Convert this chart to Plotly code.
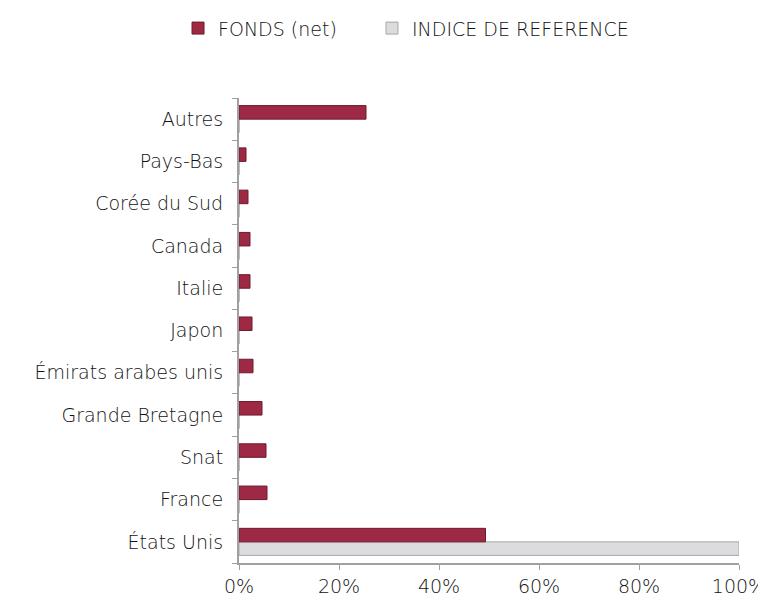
import plotly.graph_objects as go

categories = ["États Unis", "France", "Snat", "Grande Bretagne", "Émirats arabes unis",
              "Japon", "Italie", "Canada", "Corée du Sud", "Pays-Bas", "Autres"]
fonds = [49.3, 5.6, 5.4, 4.6, 2.8, 2.6, 2.2, 2.2, 1.8, 1.4, 25.4]
indice = [100, 0, 0, 0, 0, 0, 0, 0, 0, 0, 0]
tick_vals = [0, 20, 40, 60, 80, 100]
tick_text = ["0%", "20%", "40%", "60%", "80%", "100%"]

font_family = "DejaVu Sans"
text_color = "#111111"
fsize = 19

fig = go.Figure()
fig.add_trace(go.Bar(
    y=categories, x=indice, orientation="h", name="INDICE DE REFERENCE",
    marker=dict(color="#DCDCDE", line=dict(color="#A8A8A8", width=1)),
    legend="legend2",
))
fig.add_trace(go.Bar(
    y=categories, x=fonds, orientation="h", name="FONDS (net)",
    marker=dict(color="#9E2944", line=dict(color="#6E1A2E", width=1)),
    legend="legend",
))

legend_common = dict(orientation="h", xref="container", xanchor="left",
                     y=0.966, yref="container", yanchor="middle",
                     font=dict(size=fsize, color=text_color, weight=200),
                     itemwidth=30)

fig.update_layout(
    width=758, height=595,
    margin=dict(l=231, r=27, t=90, b=40, autoexpand=False),
    paper_bgcolor="white", plot_bgcolor="white",
    barmode="group", bargap=0.36, bargroupgap=0,
    font=dict(family=font_family, size=fsize, color=text_color, weight=200),
    legend=dict(x=0.2243, **legend_common),
    legend2=dict(x=0.4802, **legend_common),
    showlegend=True,
)
fig.update_xaxes(
    range=[0, 100], tickvals=tick_vals, ticktext=tick_text,
    showgrid=False, zeroline=False,
    showline=True, linecolor="#A0A0A0", linewidth=2,
    ticks="outside", ticklen=5, tickcolor="#A0A0A0", tickwidth=1,
    ticklabeloverflow="allow",
    tickfont=dict(size=fsize, color=text_color, weight=200),
)
fig.update_yaxes(
    categoryorder="array", categoryarray=categories,
    showgrid=False, zeroline=False,
    showline=True, linecolor="#A0A0A0", linewidth=2,
    ticks="outside", tickson="boundaries", ticklen=5, tickcolor="#A0A0A0", tickwidth=1,
    ticklabelstandoff=10, ticklabeloverflow="allow",
    tickfont=dict(size=fsize, color=text_color, weight=200),
)

fig.write_html("out.html")
